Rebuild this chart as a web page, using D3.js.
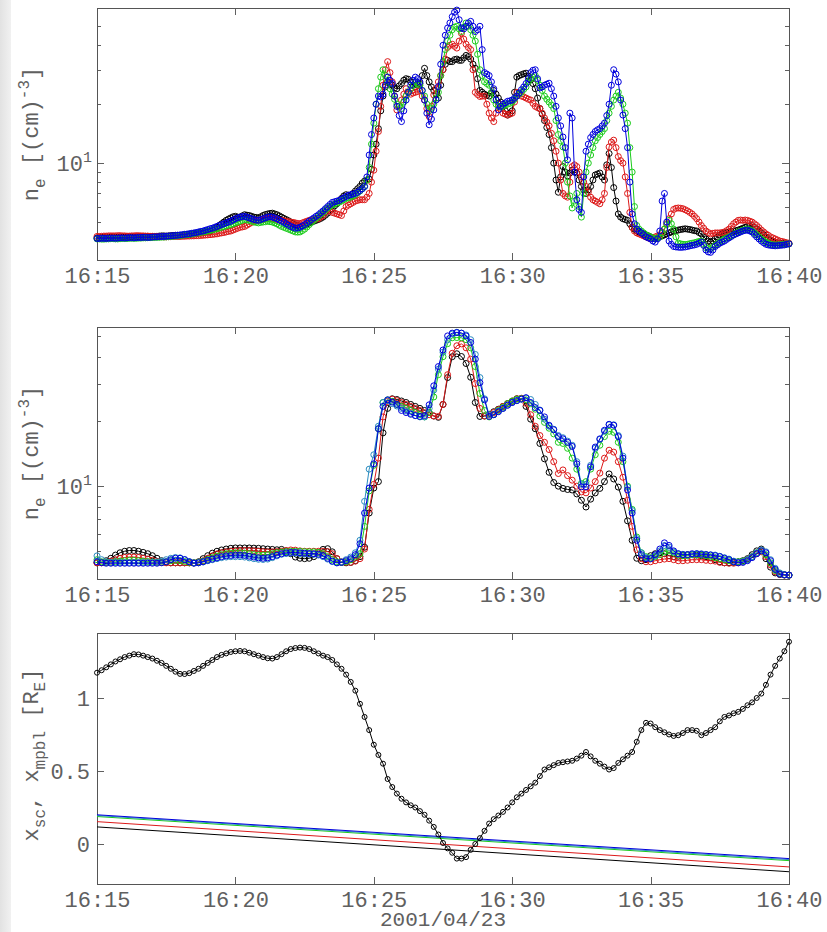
<!DOCTYPE html>
<html>
<head>
<meta charset="utf-8">
<script src="https://cdn.jsdelivr.net/npm/d3@7"></script>
<style>
  body { margin: 0; background: #ffffff; }
  svg { display: block; }
</style>
</head>
<body>
<svg id="chart" width="827" height="932"></svg>
<script>
// ---------------------------------------------------------------
// Electron density from four measurements (top, 5-s samples), five
// model estimates (middle, 10-s samples) and spacecraft / boundary
// positions (bottom, 10-s samples), 2001-04-23 16:15-16:40 UT.
// ---------------------------------------------------------------
const startTime = "2001-04-23T16:15:00Z";
const measStepSeconds = 5;
const modelStepSeconds = 10;
const xTickLabels = ["16:15", "16:20", "16:25", "16:30", "16:35", "16:40"];
const dateLabel = "2001/04/23";
const logMajorTicks = [10];
const logMinorTicks = [5, 6, 7, 8, 9, 20, 30, 40, 50];
const posTicks = [0, 0.5, 1];

// measured n_e [cm^-3], 5-s samples
const neMeasBlack = [
  4.15,4.16,4.17,4.17,4.16,4.17,4.18,4.17,4.17,4.18,4.19,4.19,4.18,4.19,4.20,4.20,4.19,4.20,4.21,4.21,
  4.20,4.21,4.22,4.22,4.21,4.22,4.23,4.24,4.25,4.25,4.24,4.25,4.26,4.27,4.28,4.28,4.27,4.28,4.30,4.31,
  4.32,4.33,4.35,4.37,4.38,4.40,4.42,4.45,4.47,4.50,4.55,4.62,4.70,4.80,4.90,5.00,5.10,5.18,5.25,5.32,
  5.35,5.30,5.30,5.38,5.45,5.42,5.40,5.35,5.30,5.28,5.25,5.32,5.40,5.46,5.50,5.53,5.55,5.50,5.45,5.38,
  5.30,5.22,5.15,5.08,5.00,4.92,4.85,4.80,4.75,4.76,4.80,4.88,4.95,5.00,5.05,5.10,5.15,5.22,5.30,5.42,
  5.55,5.70,5.85,6.05,6.20,6.40,6.60,6.80,6.90,6.85,6.80,7.00,7.20,7.40,7.60,7.90,8.10,8.20,8.30,9.30,
  11.0,12.5,15.0,18.5,22.0,24.5,26.0,25.5,25.0,24.2,24.0,24.8,25.5,26.5,27.0,26.8,26.0,25.0,24.5,25.0,
  25.5,28.0,30.5,28.0,26.0,24.5,23.5,22.5,21.5,25.0,30.0,32.0,33.5,33.0,33.0,33.8,34.0,33.5,33.5,34.5,
  35.5,35.0,34.0,32.0,30.5,27.0,23.5,23.0,22.5,22.2,22.0,22.8,23.5,22.5,21.5,20.5,19.5,18.5,17.6,18.0,
  18.5,23.0,27.5,28.0,28.3,28.6,28.8,27.8,26.6,25.5,24.0,21.5,19.0,17.8,16.5,15.2,14.0,12.0,10.0,8.2,
  7.1,8.5,9.6,9.0,8.6,8.9,9.2,9.0,8.9,8.2,7.6,7.3,7.0,7.3,7.6,8.2,8.7,8.8,8.9,8.5,
  8.2,9.8,11.2,9.5,7.5,6.4,5.5,5.3,5.2,5.15,5.1,4.9,4.7,4.6,4.5,4.45,4.4,4.35,4.3,4.25,
  4.2,4.15,4.1,4.15,4.2,4.25,4.3,4.35,4.4,4.45,4.5,4.52,4.55,4.58,4.6,4.62,4.6,4.58,4.55,4.52,
  4.5,4.42,4.35,4.2,4.1,4.0,3.95,4.0,4.1,4.2,4.3,4.35,4.4,4.42,4.45,4.48,4.5,4.52,4.55,4.6,
  4.65,4.7,4.75,4.78,4.8,4.7,4.6,4.5,4.4,4.3,4.2,4.12,4.05,4.0,3.95,3.92,3.9,3.89,3.88,3.87,3.87
];
const neMeasRed = [
  4.22,4.22,4.23,4.24,4.24,4.25,4.25,4.25,4.25,4.26,4.26,4.25,4.25,4.24,4.24,4.25,4.25,4.26,4.26,4.25,
  4.25,4.24,4.24,4.23,4.23,4.22,4.22,4.21,4.21,4.20,4.20,4.21,4.21,4.22,4.22,4.22,4.22,4.23,4.23,4.24,
  4.24,4.25,4.25,4.26,4.26,4.27,4.28,4.29,4.30,4.31,4.32,4.34,4.35,4.38,4.40,4.42,4.45,4.48,4.50,4.55,
  4.60,4.65,4.70,4.72,4.75,4.82,4.90,4.98,5.05,5.08,5.10,5.12,5.15,5.18,5.20,5.21,5.20,5.18,5.15,5.12,
  5.10,5.08,5.05,5.02,5.00,4.98,4.95,4.92,4.90,4.95,5.00,5.05,5.10,5.12,5.15,5.18,5.20,5.30,5.40,5.60,
  5.80,5.70,5.60,5.55,5.50,5.45,5.40,5.70,6.00,6.10,6.20,6.30,6.40,6.45,6.50,6.50,6.50,6.70,7.00,8.00,
  9.2,11.5,14.5,19.5,25.0,30.0,33.0,29.0,26.0,22.0,18.7,19.5,21.0,22.5,24.0,23.0,22.5,22.8,23.0,23.2,
  23.5,22.0,21.0,19.0,17.3,19.5,22.3,24.0,26.0,28.0,30.0,34.0,39.0,40.0,40.5,39.5,38.7,42.0,46.0,43.0,
  40.5,39.0,38.0,30.0,23.0,22.4,21.9,22.0,22.0,20.0,18.0,17.0,16.3,18.0,20.0,19.0,18.0,17.8,17.6,17.8,
  18.0,20.5,23.0,22.5,22.0,21.8,21.5,21.2,21.0,20.2,19.5,19.2,19.0,18.0,17.0,16.2,15.5,14.2,13.0,11.5,
  10.0,8.2,7.0,6.8,6.7,8.0,9.6,9.8,9.6,9.0,8.5,8.0,7.6,7.1,6.7,6.5,6.4,6.3,6.2,6.5,
  7.0,9.5,12.1,12.8,13.1,12.0,10.8,10.3,10.0,8.5,7.0,5.6,4.7,4.5,4.4,4.35,4.3,4.25,4.2,4.15,
  4.1,4.15,4.2,4.25,4.3,4.45,4.6,4.9,5.2,5.5,5.8,5.88,5.9,5.88,5.85,5.78,5.7,5.6,5.5,5.35,
  5.2,5.0,4.8,4.65,4.5,4.42,4.35,4.38,4.4,4.4,4.4,4.42,4.45,4.52,4.6,4.75,4.9,5.0,5.1,5.12,
  5.1,5.12,5.1,5.05,5.0,4.9,4.8,4.68,4.55,4.45,4.35,4.28,4.2,4.15,4.1,4.05,4.0,3.98,3.95,3.92,3.9
];
const neMeasGreen = [
  4.10,4.10,4.09,4.09,4.10,4.10,4.11,4.11,4.10,4.10,4.11,4.12,4.12,4.12,4.13,4.13,4.13,4.13,4.14,4.14,
  4.15,4.15,4.16,4.16,4.17,4.17,4.18,4.18,4.19,4.19,4.20,4.21,4.22,4.23,4.24,4.25,4.27,4.28,4.30,4.31,
  4.33,4.35,4.37,4.39,4.41,4.43,4.45,4.47,4.50,4.53,4.56,4.59,4.62,4.66,4.70,4.74,4.78,4.82,4.85,4.90,
  4.95,5.00,5.05,5.10,5.15,5.12,5.10,5.05,5.00,4.98,4.95,4.98,5.00,5.02,5.05,5.02,5.00,4.95,4.90,4.82,
  4.75,4.70,4.65,4.60,4.55,4.50,4.45,4.44,4.45,4.52,4.60,4.72,4.85,4.98,5.10,5.22,5.35,5.48,5.60,5.75,
  5.90,6.00,6.10,6.18,6.25,6.32,6.40,6.50,6.60,6.65,6.70,6.80,6.90,7.05,7.20,7.40,7.60,8.20,9.5,12.5,
  16.0,20.0,24.0,27.5,30.0,28.0,26.0,24.0,22.5,21.2,20.0,19.5,19.0,20.5,22.0,23.0,24.0,25.0,26.0,25.5,
  25.0,23.5,22.0,20.0,18.5,19.0,20.0,21.5,23.0,28.0,33.0,38.0,42.0,45.0,48.0,49.5,50.0,48.5,47.0,49.5,
  52.0,50.0,48.0,45.0,42.0,36.0,30.0,28.0,26.0,25.5,25.0,23.0,21.0,20.0,19.5,19.3,19.5,19.8,20.0,20.2,
  20.5,21.2,22.0,22.5,23.0,23.8,24.5,26.0,27.0,27.5,28.0,26.5,25.0,23.5,22.0,21.2,20.5,19.8,19.0,16.5,
  14.0,13.0,12.1,10.0,8.0,6.8,5.9,6.4,7.0,6.0,5.3,7.0,9.0,10.0,11.0,12.0,13.0,13.5,14.0,14.5,
  15.0,16.5,18.0,19.5,21.0,22.0,23.0,21.5,20.0,18.0,16.0,12.0,9.0,6.0,4.8,4.6,4.5,4.4,4.3,4.25,
  4.2,4.15,4.1,4.15,4.2,4.4,4.6,4.85,5.1,4.9,4.6,4.2,3.9,3.87,3.85,3.84,3.85,3.88,3.9,3.92,
  3.95,3.98,4.0,3.85,3.7,3.66,3.65,3.72,3.8,3.88,3.95,4.02,4.1,4.15,4.2,4.25,4.3,4.38,4.45,4.5,
  4.55,4.58,4.6,4.55,4.5,4.4,4.3,4.2,4.1,4.02,3.95,3.9,3.85,3.83,3.82,3.82,3.83,3.84,3.85,3.86,3.87
];
const neMeasBlue = [
  4.12,4.12,4.13,4.13,4.12,4.13,4.14,4.14,4.13,4.14,4.15,4.15,4.14,4.15,4.16,4.16,4.15,4.16,4.17,4.17,
  4.18,4.18,4.17,4.18,4.19,4.20,4.20,4.21,4.22,4.22,4.23,4.24,4.25,4.26,4.27,4.28,4.30,4.31,4.33,4.34,
  4.36,4.38,4.40,4.42,4.45,4.48,4.50,4.54,4.58,4.62,4.65,4.70,4.75,4.80,4.85,4.90,4.95,5.00,5.05,5.12,
  5.20,5.25,5.30,5.33,5.35,5.30,5.25,5.20,5.15,5.12,5.10,5.15,5.20,5.25,5.30,5.32,5.30,5.25,5.20,5.12,
  5.05,4.98,4.90,4.82,4.75,4.70,4.65,4.66,4.70,4.78,4.85,4.95,5.05,5.15,5.25,5.35,5.45,5.58,5.70,5.85,
  6.00,6.15,6.30,6.35,6.40,6.45,6.55,6.65,6.75,6.85,6.90,6.95,7.00,7.10,7.25,7.40,7.60,8.50,11.0,14.0,
  17.0,20.0,22.0,21.8,22.5,25.0,27.5,26.5,25.5,22.0,19.5,17.5,16.3,18.5,21.0,23.0,25.0,26.5,27.5,27.0,
  26.0,23.5,21.0,18.0,15.7,16.8,18.7,21.0,24.6,32.0,40.0,45.0,49.0,52.0,56.0,59.0,60.5,54.0,49.0,48.5,
  50.0,52.0,53.0,50.0,47.0,48.0,50.0,38.0,29.0,28.5,28.0,26.0,24.0,21.0,18.7,19.5,20.0,20.3,20.7,20.8,
  21.0,21.5,22.0,22.8,23.7,24.5,25.5,27.0,29.0,29.8,30.0,27.0,24.2,24.5,25.0,25.3,25.6,24.0,22.0,19.5,
  17.0,15.5,13.6,12.0,10.4,18.0,17.0,9.0,6.5,5.8,5.6,8.5,11.5,12.5,13.5,14.0,14.5,14.8,15.0,15.5,
  16.0,17.5,20.0,25.0,30.0,28.5,26.0,21.0,17.6,15.0,12.0,8.0,5.5,4.9,4.6,4.5,4.4,4.3,4.2,4.15,
  4.1,4.0,3.95,4.1,4.5,6.4,7.0,5.0,4.0,3.85,3.75,3.73,3.72,3.71,3.72,3.73,3.75,3.78,3.8,3.82,
  3.85,3.9,3.95,3.8,3.6,3.52,3.5,3.6,3.75,3.82,3.9,3.95,4.0,4.08,4.15,4.22,4.3,4.35,4.4,4.45,
  4.5,4.53,4.55,4.5,4.45,4.32,4.2,4.1,4.0,3.92,3.85,3.82,3.8,3.79,3.78,3.79,3.8,3.81,3.82,3.85,3.87
];

// modelled n_e [cm^-3], 10-s samples
const neModelBlack = [
  4.40,4.42,4.50,4.62,4.78,4.90,4.98,5.02,5.02,4.98,
  4.92,4.85,4.75,4.62,4.50,4.42,4.40,4.40,4.40,4.40,
  4.40,4.40,4.45,4.60,4.75,4.88,4.98,5.05,5.10,5.14,
  5.16,5.16,5.16,5.16,5.15,5.14,5.12,5.10,5.08,5.06,
  5.08,5.00,4.85,4.68,4.62,4.60,4.62,4.70,4.90,5.08,
  5.12,4.95,4.60,4.42,4.40,4.42,4.50,4.70,5.20,7.5,
  9.8,10.5,17.7,23.0,25.5,25.3,24.9,24.5,24.0,23.5,
  23.0,22.5,22.0,21.2,20.9,24.0,32.0,40.0,41.3,40.1,
  37.2,32.1,24.5,21.1,21.2,21.6,22.2,22.8,23.5,24.2,
  24.8,25.5,25.6,23.5,20.5,18.5,15.8,13.4,11.6,10.4,
  10.0,9.76,9.65,9.6,9.2,8.6,8.0,8.7,9.3,9.76,
  10.5,11.4,10.8,9.9,8.5,6.9,5.6,4.62,4.5,4.55,
  4.75,4.85,4.9,4.85,4.75,4.7,4.72,4.75,4.8,4.8,
  4.78,4.75,4.7,4.65,4.55,4.45,4.4,4.4,4.42,4.45,
  4.5,4.6,4.8,5.0,5.1,4.6,4.2,3.95,3.88,3.86,3.85
];
const neModelRed = [
  4.40,4.40,4.42,4.48,4.55,4.62,4.66,4.68,4.68,4.66,
  4.62,4.58,4.52,4.46,4.42,4.40,4.40,4.40,4.40,4.40,
  4.40,4.40,4.42,4.50,4.62,4.74,4.84,4.90,4.95,4.98,
  5.00,5.02,5.02,5.02,5.00,4.98,4.96,4.95,4.95,4.96,
  4.98,5.02,5.05,5.04,5.00,4.98,4.98,4.98,4.98,4.98,
  4.96,4.85,4.60,4.45,4.42,4.42,4.48,4.60,5.10,7.8,
  10.2,13.5,21.0,24.8,25.4,25.0,24.5,24.0,23.5,23.0,
  22.5,22.0,21.5,21.2,21.1,24.0,33.0,41.5,45.0,45.9,
  44.0,39.0,30.0,23.0,21.2,21.4,22.0,22.7,23.5,24.2,
  24.9,25.5,25.6,24.3,21.5,19.0,17.2,16.0,14.8,13.0,
  11.45,11.9,11.2,10.66,10.0,9.4,9.31,9.8,10.5,11.5,
  13.5,14.7,14.4,13.0,11.0,8.6,6.5,5.06,4.6,4.45,
  4.45,4.5,4.55,4.58,4.6,4.55,4.5,4.5,4.52,4.55,
  4.55,4.55,4.52,4.5,4.48,4.42,4.4,4.38,4.38,4.4,
  4.45,4.55,4.7,4.85,4.95,4.7,4.3,4.0,3.9,3.87,3.86
];
const neModelGreen = [
  4.55,4.45,4.42,4.42,4.45,4.48,4.50,4.52,4.52,4.50,
  4.48,4.46,4.44,4.42,4.42,4.45,4.50,4.52,4.50,4.46,
  4.42,4.40,4.42,4.48,4.56,4.65,4.73,4.80,4.85,4.88,
  4.90,4.90,4.88,4.85,4.80,4.78,4.78,4.80,4.85,4.90,
  4.94,4.96,4.98,4.98,4.98,4.96,4.95,4.95,4.92,4.85,
  4.70,4.55,4.45,4.42,4.45,4.55,4.70,4.85,6.5,9.5,
  12.5,18.5,24.5,25.2,24.8,24.0,23.5,23.0,22.5,22.0,
  21.5,21.0,22.0,26.0,33.0,40.0,46.0,49.0,49.1,49.0,
  48.0,44.0,36.0,27.0,22.5,21.0,21.5,22.5,23.3,24.2,
  24.9,25.4,25.5,25.2,24.2,22.8,21.2,19.8,18.6,17.5,
  16.0,15.8,15.0,13.5,12.0,10.3,10.5,12.0,14.0,15.5,
  17.0,18.0,17.8,16.0,13.0,10.0,7.8,5.8,4.9,4.7,
  4.65,4.7,4.8,4.95,5.0,4.9,4.8,4.75,4.75,4.8,
  4.8,4.78,4.75,4.7,4.65,4.6,4.55,4.5,4.45,4.45,
  4.48,4.55,4.7,4.9,5.0,4.8,4.4,4.05,3.92,3.88,3.86
];
const neModelCyan = [
  4.74,4.55,4.45,4.42,4.42,4.42,4.42,4.42,4.42,4.42,
  4.42,4.42,4.42,4.44,4.48,4.55,4.62,4.66,4.64,4.56,
  4.46,4.40,4.40,4.44,4.50,4.55,4.60,4.65,4.68,4.70,
  4.70,4.70,4.68,4.64,4.60,4.57,4.56,4.58,4.65,4.74,
  4.82,4.86,4.88,4.88,4.86,4.84,4.83,4.82,4.78,4.70,
  4.58,4.46,4.40,4.45,4.55,4.68,4.90,5.6,8.5,12.0,
  14.0,19.0,24.5,25.0,24.2,23.6,23.0,22.4,21.8,21.3,
  21.0,21.0,23.0,28.0,35.0,42.0,48.0,51.0,52.0,51.5,
  50.5,48.0,41.0,32.0,25.5,21.5,21.6,22.3,23.0,23.8,
  24.5,25.0,25.4,25.7,25.3,24.0,22.6,20.5,19.0,18.4,
  17.2,16.8,16.2,15.5,13.0,10.2,10.2,12.5,15.0,16.5,
  18.0,19.3,19.3,17.2,13.8,9.9,7.7,5.7,4.9,4.65,
  4.6,4.75,5.0,5.3,5.2,4.95,4.85,4.82,4.8,4.82,
  4.85,4.85,4.82,4.8,4.78,4.72,4.65,4.58,4.48,4.42,
  4.45,4.55,4.7,4.9,5.05,4.95,4.55,4.15,3.95,3.88,3.86
];
const neModelBlue = [
  4.45,4.40,4.38,4.38,4.38,4.38,4.38,4.38,4.38,4.38,
  4.38,4.38,4.38,4.38,4.40,4.45,4.55,4.62,4.62,4.55,
  4.45,4.38,4.40,4.45,4.52,4.58,4.64,4.70,4.74,4.76,
  4.78,4.78,4.76,4.72,4.68,4.64,4.62,4.64,4.70,4.78,
  4.85,4.90,4.92,4.92,4.90,4.88,4.86,4.85,4.82,4.75,
  4.62,4.48,4.40,4.42,4.50,4.60,4.80,5.40,7.5,9.8,
  12.7,18.5,23.5,25.2,24.6,24.0,22.5,22.0,21.6,21.3,
  21.1,21.3,23.9,29.3,36.0,43.0,50.0,51.5,51.8,51.5,
  50.0,46.6,39.0,30.3,25.2,21.1,21.5,22.2,23.0,23.8,
  24.5,25.0,25.4,25.8,24.5,23.2,22.5,21.0,19.2,18.3,
  17.0,16.6,16.0,15.3,12.7,9.93,9.93,12.3,15.2,16.6,
  18.2,19.4,19.2,17.0,13.5,9.6,7.5,5.6,4.8,4.6,
  4.6,4.8,5.1,5.45,5.3,5.0,4.85,4.8,4.8,4.85,
  4.85,4.82,4.8,4.78,4.75,4.7,4.62,4.55,4.45,4.4,
  4.42,4.5,4.65,4.85,5.0,4.9,4.5,4.1,3.9,3.87,3.86
];

// spacecraft position along the normal [R_E], 10-s samples
const xSpacecraft = [
  1.173,1.19,1.21,1.23,1.25,1.265,1.28,1.29,1.30,1.298,
  1.29,1.28,1.27,1.255,1.24,1.22,1.20,1.18,1.165,1.164,
  1.17,1.185,1.20,1.22,1.24,1.26,1.28,1.295,1.305,1.315,
  1.32,1.322,1.32,1.31,1.30,1.29,1.28,1.272,1.27,1.28,
  1.30,1.32,1.335,1.342,1.345,1.343,1.335,1.32,1.305,1.29,
  1.28,1.26,1.23,1.20,1.16,1.11,1.05,0.96,0.87,0.78,
  0.68,0.61,0.55,0.445,0.39,0.345,0.31,0.285,0.265,0.25,
  0.225,0.20,0.16,0.117,0.065,0.007,-0.03,-0.06,-0.10,-0.10,
  -0.09,-0.04,0.0,0.04,0.09,0.14,0.17,0.195,0.22,0.25,
  0.285,0.32,0.345,0.37,0.395,0.42,0.465,0.51,0.525,0.54,
  0.555,0.56,0.565,0.57,0.585,0.605,0.63,0.60,0.57,0.55,
  0.53,0.51,0.52,0.555,0.58,0.605,0.63,0.70,0.78,0.83,
  0.825,0.80,0.78,0.765,0.75,0.74,0.745,0.76,0.78,0.78,
  0.775,0.745,0.76,0.78,0.80,0.84,0.87,0.88,0.895,0.905,
  0.925,0.95,0.97,1.0,1.03,1.09,1.16,1.22,1.27,1.32,1.385
];
// boundary-layer position at 16:15 and at 16:40 [R_E]
const xBoundaryStart = [0.117, 0.153, 0.188, 0.195, 0.200];
const xBoundaryEnd   = [-0.190, -0.157, -0.114, -0.107, -0.100];

// ---------------------------------------------------------------
const FONT = '"Liberation Mono", "DejaVu Sans Mono", monospace';
const INK = "#606060";
const COL = { black: "#000000", red: "#dd1a1a", green: "#1ccc1c", cyan: "#2a8cc0", blue: "#0000dd" };

const svg = d3.select("#chart");
const left = 97, right = 789;
const panels = [
  { top: 8,   bottom: 260 },
  { top: 327, bottom: 579 },
  { top: 633, bottom: 884 }
];

// gray strip at the left edge of the page
const defs = svg.append("defs");
const grad = defs.append("linearGradient").attr("id", "edge").attr("x1", 0).attr("x2", 1);
grad.append("stop").attr("offset", 0).attr("stop-color", "#e2e2e2");
grad.append("stop").attr("offset", 1).attr("stop-color", "#f1f1f1");
svg.append("rect").attr("x", 0).attr("y", 0).attr("width", 11).attr("height", 932).attr("fill", "url(#edge)");

const t0 = d3.isoParse(startTime);
const timeAt = (i, step) => new Date(t0.getTime() + i * step * 1000);
const parseHM = d3.utcParse("%Y-%m-%d %H:%M");
const tickDates = xTickLabels.map(s => parseHM("2001-04-23 " + s));
const x = d3.scaleUtc().domain([tickDates[0], tickDates[tickDates.length - 1]]).range([left, right]);

function styleAxis(g) {
  g.attr("font-family", FONT).attr("font-size", 22).attr("color", INK);
  g.select(".domain").remove();
  g.selectAll(".tick line").attr("stroke-width", 1).attr("shape-rendering", "crispEdges");
}

function frame(p, y, yMajor, yMinor, fmt, pad) {
  const g = svg.append("g");
  g.append("g").attr("transform", `translate(0,${p.bottom})`)
    .call(d3.axisBottom(x).tickValues(tickDates).tickFormat(d3.utcFormat("%H:%M")).tickSize(-7).tickPadding(7))
    .call(styleAxis);
  g.append("g").attr("transform", `translate(0,${p.top})`)
    .call(d3.axisTop(x).tickValues(tickDates).tickFormat("").tickSize(-7))
    .call(styleAxis);
  const yl = g.append("g").attr("transform", `translate(${left},0)`)
    .call(d3.axisLeft(y).tickValues(yMajor).tickFormat(fmt).tickSize(-7).tickPadding(pad))
    .call(styleAxis);
  g.append("g").attr("transform", `translate(${right},0)`)
    .call(d3.axisRight(y).tickValues(yMajor).tickFormat("").tickSize(-7))
    .call(styleAxis);
  if (yMinor) {
    g.append("g").attr("transform", `translate(${left},0)`)
      .call(d3.axisLeft(y).tickValues(yMinor).tickFormat("").tickSize(-4)).call(styleAxis);
    g.append("g").attr("transform", `translate(${right},0)`)
      .call(d3.axisRight(y).tickValues(yMinor).tickFormat("").tickSize(-4)).call(styleAxis);
  }
  g.append("rect")
    .attr("x", left + 0.5).attr("y", p.top + 0.5)
    .attr("width", right - left).attr("height", p.bottom - p.top)
    .attr("fill", "none").attr("stroke", "#555555").attr("stroke-width", 1)
    .attr("shape-rendering", "crispEdges");
  return yl;
}

function powerLabels(axisG) {
  axisG.selectAll(".tick text").each(function (d) {
    const t = d3.select(this).text(null);
    const e = Math.round(Math.log10(d));
    t.append("tspan").text("10");
    t.append("tspan").attr("dy", -9).attr("font-size", 15).text(String(e));
  });
}

function series(y, values, step, color, r) {
  const g = svg.append("g");
  const line = d3.line().x((d, i) => x(timeAt(i, step))).y(d => y(d));
  g.append("path").datum(values).attr("d", line)
    .attr("fill", "none").attr("stroke", color).attr("stroke-width", 1);
  g.selectAll("circle").data(values).join("circle")
    .attr("cx", (d, i) => x(timeAt(i, step))).attr("cy", d => y(d)).attr("r", r)
    .attr("fill", "none").attr("stroke", color).attr("stroke-width", 1);
}

function densityTitle(cy) {
  const t = svg.append("text")
    .attr("transform", `translate(38,${cy}) rotate(-90)`)
    .attr("text-anchor", "middle").attr("font-family", FONT).attr("font-size", 22).attr("fill", INK);
  t.append("tspan").text("n");
  t.append("tspan").attr("dy", 7).attr("font-size", 16).text("e");
  t.append("tspan").attr("dy", -7).text(" [(cm)");
  t.append("tspan").attr("dy", -9).attr("font-size", 16).text("-3");
  t.append("tspan").attr("dy", 9).text("]");
}

// ---- panel 1: measured density
{
  const p = panels[0];
  const y = d3.scaleLog().domain([3.2, 62]).range([p.bottom, p.top]);
  const yl = frame(p, y, logMajorTicks, logMinorTicks, d => d, 5);
  powerLabels(yl);
  series(y, neMeasBlack, measStepSeconds, COL.black, 3);
  series(y, neMeasRed, measStepSeconds, COL.red, 3);
  series(y, neMeasGreen, measStepSeconds, COL.green, 3);
  series(y, neMeasBlue, measStepSeconds, COL.blue, 3);
  densityTitle((p.top + p.bottom) / 2);
}

// ---- panel 2: modelled density
{
  const p = panels[1];
  const y = d3.scaleLog().domain([3.7, 55]).range([p.bottom, p.top]);
  const yl = frame(p, y, logMajorTicks, logMinorTicks, d => d, 5);
  powerLabels(yl);
  series(y, neModelBlack, modelStepSeconds, COL.black, 3);
  series(y, neModelRed, modelStepSeconds, COL.red, 3);
  series(y, neModelGreen, modelStepSeconds, COL.green, 3);
  series(y, neModelCyan, modelStepSeconds, COL.cyan, 3);
  series(y, neModelBlue, modelStepSeconds, COL.blue, 3);
  densityTitle((p.top + p.bottom) / 2);
}

// ---- panel 3: positions
{
  const p = panels[2];
  const y = d3.scaleLinear().domain([-0.274, 1.445]).range([p.bottom, p.top]);
  frame(p, y, posTicks, null, d3.format("~g"), 7);
  const colors = [COL.black, COL.red, COL.green, COL.cyan, COL.blue];
  const tEnd = timeAt(xSpacecraft.length - 1, modelStepSeconds);
  xBoundaryStart.forEach((v0, k) => {
    const pts = [[t0, v0], [tEnd, xBoundaryEnd[k]]];
    svg.append("path").datum(pts)
      .attr("d", d3.line().x(d => x(d[0])).y(d => y(d[1])))
      .attr("fill", "none").attr("stroke", colors[k]).attr("stroke-width", 1);
  });
  series(y, xSpacecraft, modelStepSeconds, COL.black, 2.5);

  const t = svg.append("text")
    .attr("transform", `translate(38,755) rotate(-90)`)
    .attr("text-anchor", "middle").attr("font-family", FONT).attr("font-size", 22).attr("fill", INK);
  t.append("tspan").text("x");
  t.append("tspan").attr("dy", 7).attr("font-size", 16).text("sc");
  t.append("tspan").attr("dy", -7).text(", x");
  t.append("tspan").attr("dy", 7).attr("font-size", 16).text("mpbl");
  t.append("tspan").attr("dy", -7).text(" [R");
  t.append("tspan").attr("dy", 7).attr("font-size", 16).text("E");
  t.append("tspan").attr("dy", -7).text("]");

  svg.append("text")
    .attr("x", (left + right) / 2).attr("y", 926)
    .attr("text-anchor", "middle").attr("font-family", FONT).attr("font-size", 21).attr("fill", INK)
    .text(dateLabel);
}
</script>
</body>
</html>
